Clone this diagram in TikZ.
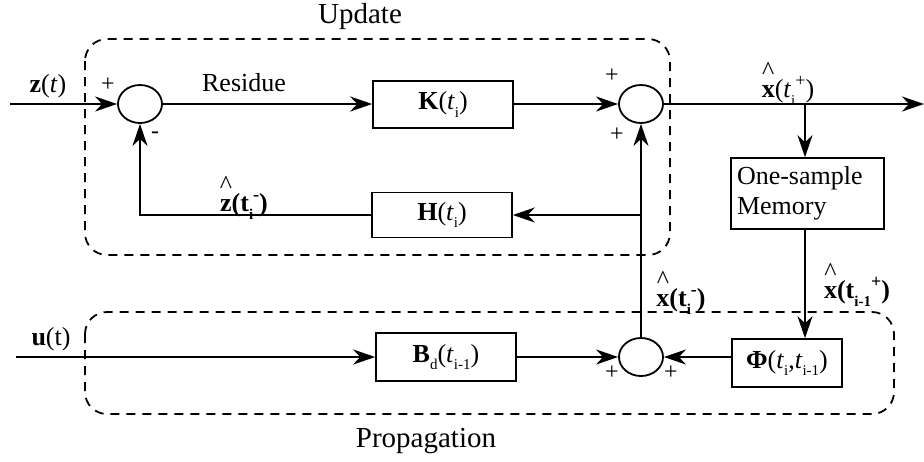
\documentclass[tikz,border=0pt]{standalone}
\usepackage{fontspec}
\setmainfont{Liberation Serif}
\usetikzlibrary{arrows.meta,shapes.geometric}
\newcommand\hatme[1]{\leavevmode\setbox0\hbox{#1}\rlap{\hbox to\wd0{\hss\raisebox{0.72em}{\fontseries{m}\selectfont\textasciicircum}\hss}}\box0}
\newcommand\sbs[1]{\raisebox{-0.3em}{\fontsize{15}{15}\selectfont #1}}
\newcommand\sps[1]{\raisebox{0.45em}{\fontsize{18}{18}\selectfont #1}}
\begin{document}
\begin{tikzpicture}[x=1pt,y=-1pt,
  lbl/.style={font=\fontsize{26}{30}\selectfont, inner sep=0},
  sgn/.style={font=\fontsize{24}{26}\selectfont, inner sep=0},
  ttl/.style={font=\fontsize{29}{33}\selectfont, inner sep=0},
  blk/.style={draw, line width=1.6pt, inner sep=0, font=\fontsize{26}{30}\selectfont},
  sum/.style={ellipse, draw, line width=1.8pt, minimum width=44pt, minimum height=38pt, inner sep=0},
  grp/.style={draw, dash pattern=on 9pt off 7pt, line width=1.8pt, rounded corners=22pt},
  conn/.style={line width=1.8pt},
  arr/.style={conn, -{Stealth[length=22pt,width=15pt,inset=7pt]}}]
\useasboundingbox (0,0) rectangle (924,461);
% groups
\draw[grp] (85,39) rectangle (670,255);
\draw[grp] (85,312) rectangle (894,414);
\node[ttl] (tupd) at (360,17) {Update};
\node[ttl] (tprop) at (426,441) {Propagation};
% junctions
\node[sum] (j1) at (140,104) {};
\node[sum] (j2) at (641,104) {};
\node[sum] (j3) at (641,357) {};
% blocks
\node[blk, minimum width=140pt, minimum height=47pt] (K) at (443,104.5) {\textbf{K}(\textit{t}\sbs{i})};
\node[blk, minimum width=140pt, minimum height=45pt] (H) at (442,215) {\textbf{H}(\textit{t}\sbs{i})};
\node[blk, minimum width=140pt, minimum height=48pt] (Bd) at (446,357) {\textbf{B}\sbs{d}(\textit{t}\sbs{i-1})};
\node[blk, minimum width=110pt, minimum height=48pt] (phi) at (787,363) {\textbf{Φ}(\textit{t}\sbs{i},\textit{t}\sbs{i-1})};
\node[blk, minimum width=153pt, minimum height=71pt, text width=141pt, align=left, inner xsep=6pt] (mem) at (807.5,193.5) {One-sample\\Memory};
% coordinates
\coordinate (zin) at (10,104);
\coordinate (uin) at (16,357);
\coordinate (out) at (924,104);
\coordinate (br) at (805,104);
\coordinate (tap) at (641,215);
% connectors
\draw[arr] (zin) -- (j1.west);
\draw[arr] (j1.east) -- (K.west |- j1);
\draw[arr] (K.east |- j2) -- (j2.west);
\draw[arr] (j2.east) -- (out);
\draw[arr] (br) -- (br |- mem.north);
\draw[arr] (br |- mem.south) -- (br |- phi.north);
\draw[arr] (phi.west |- j3) -- (j3.east);
\draw[arr] (uin) -- (Bd.west);
\draw[arr] (Bd.east) -- (j3.west);
\draw[arr] (j3.north) -- (j2.south);
\draw[arr] (tap) -- (H.east |- tap);
\draw[arr] (H.west |- tap) -- (j1.south |- tap) -- (j1.south);
% labels
\node[lbl] (lz) at (48,86) {\textbf{z}(\textit{t})};
\node[lbl] (lu) at (51,339) {\textbf{u}(t)};
\node[lbl] (lres) at (244,83) {Residue};
\node[lbl] (lzh) at (244,198) {\textbf{\hatme{z}(t\sbs{i}\sps{-})}};
\node[lbl] (lxp) at (788,84) {\hatme{\textbf{x}}(\textit{t}\sbs{i}\sps{+})};
\node[lbl] (lxm) at (681,293) {\textbf{\hatme{x}(t\sbs{i}\sps{-})}};
\node[lbl] (lxp1) at (857,285) {\textbf{\hatme{x}(t\sbs{i-1}\sps{+})}};
% signs
\node[sgn] (s1) at (108,85) {+};
\node[sgn] (s2) at (155,135) {-};
\node[sgn] (s3) at (612,76) {+};
\node[sgn] (s4) at (617,135) {+};
\node[sgn] (s5) at (612,373) {+};
\node[sgn] (s6) at (671,373) {+};
\end{tikzpicture}
\end{document}
